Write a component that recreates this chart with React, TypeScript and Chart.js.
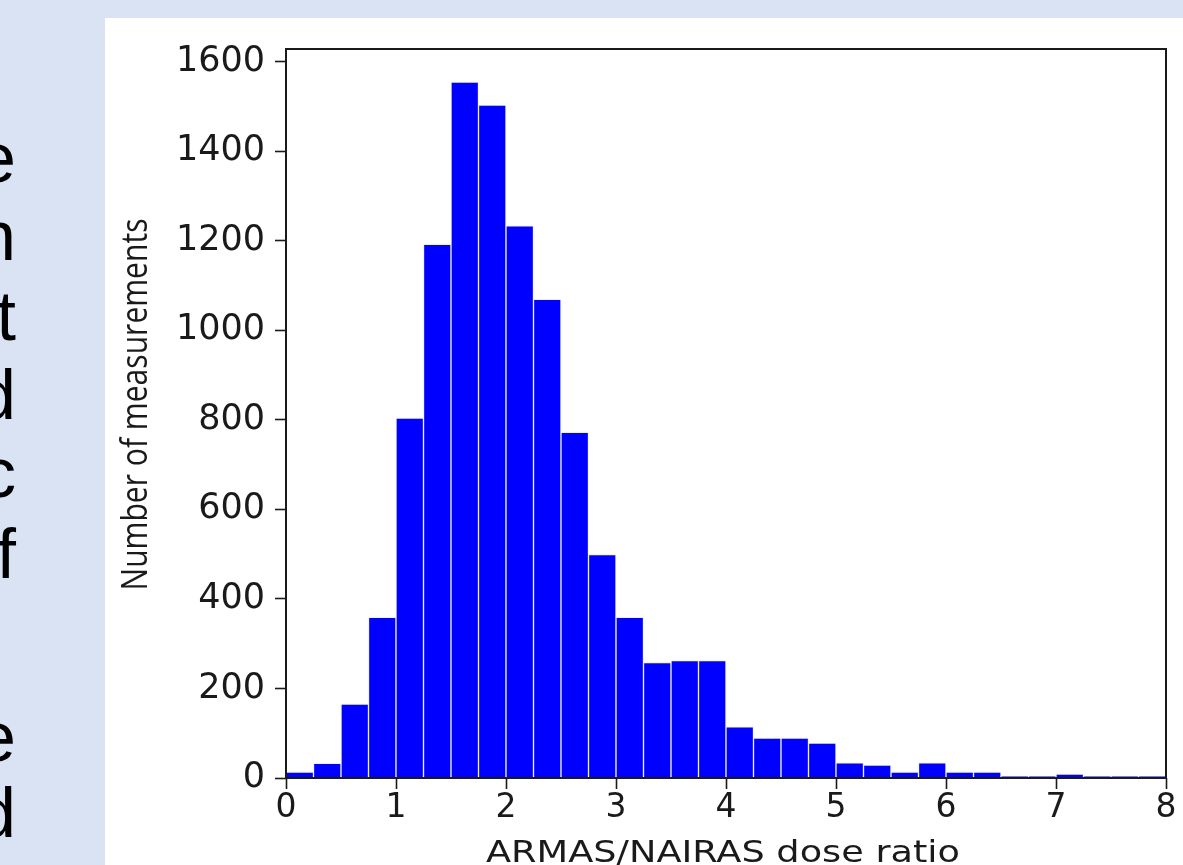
import { useEffect, useRef } from "react";
import { Chart, registerables } from "chart.js";

Chart.register(...registerables);

// Histogram bins of the ARMAS/NAIRAS dose ratio (bin width 0.25)
const binCenters = [
  0.125, 0.375, 0.625, 0.875, 1.125, 1.375, 1.625, 1.875,
  2.125, 2.375, 2.625, 2.875, 3.125, 3.375, 3.625, 3.875,
  4.125, 4.375, 4.625, 4.875, 5.125, 5.375, 5.625, 5.875,
  6.125, 6.375, 6.625, 6.875, 7.125, 7.375, 7.625, 7.875,
];
const counts = [
  13, 33, 165, 359, 804, 1192, 1554, 1503,
  1233, 1069, 772, 499, 359, 258, 262, 262,
  114, 89, 89, 78, 34, 29, 13, 34,
  13, 13, 4, 4, 9, 4, 4, 4,
];
const xTicks = [0, 1, 2, 3, 4, 5, 6, 7, 8];
const yTicks = [0, 200, 400, 600, 800, 1000, 1200, 1400, 1600];
const xRange = [0, 8];
const yRange = [0, 1628];
const xTitle = "ARMAS/NAIRAS dose ratio";
const yTitle = "Number of measurements";

// Line endings of the slide paragraph running off the left edge
const sideLetters = ["e", "n", "t", "d", "c", "f", "e", "d"];
const sideBaselines = [182, 260, 340, 419, 497, 578, 761, 837];

const INK = "#1a1a1a";

const framePlugin = {
  id: "frame",
  afterDatasetsDraw(chart: any) {
    const { ctx, chartArea: a } = chart;
    ctx.save();
    ctx.strokeStyle = INK;
    ctx.lineWidth = 2;
    ctx.strokeRect(a.left, a.top, a.right - a.left, a.bottom - a.top);
    ctx.restore();
  },
  afterDraw(chart: any) {
    const { ctx, chartArea: a } = chart;
    const drawFitted = (
      text: string,
      font: string,
      x: number,
      y: number,
      length: number,
      angle: number
    ) => {
      ctx.save();
      ctx.font = font;
      ctx.fillStyle = INK;
      ctx.textAlign = "center";
      ctx.textBaseline = "alphabetic";
      const w = ctx.measureText(text).width;
      ctx.translate(x, y);
      ctx.rotate(angle);
      ctx.scale(length / w, 1);
      ctx.fillText(text, 0, 0);
      ctx.restore();
    };
    // y-axis title, narrow face
    drawFitted(
      yTitle,
      "37px 'Open Sans', sans-serif",
      a.left - 139,
      (a.top + a.bottom) / 2 - 9,
      372,
      -Math.PI / 2
    );
    // x-axis title
    drawFitted(
      xTitle,
      "30px 'DejaVu Sans', sans-serif",
      (a.left + a.right) / 2 - 3,
      a.bottom + 84,
      474,
      0
    );
  },
};

function Histogram() {
  const canvasRef = useRef<HTMLCanvasElement | null>(null);

  useEffect(() => {
    const canvas = canvasRef.current;
    if (!canvas) return;
    const chart = new Chart(canvas, {
      type: "bar",
      data: {
        datasets: [
          {
            data: binCenters.map((x, i) => ({ x, y: counts[i] })),
            backgroundColor: "#0000ff",
            borderColor: "#eef0ff",
            borderWidth: 1,
            barPercentage: 1,
            categoryPercentage: 1,
          },
        ],
      },
      options: {
        responsive: false,
        maintainAspectRatio: false,
        animation: false,
        devicePixelRatio: 1,
        layout: { padding: { top: 30, right: 17, left: 0, bottom: 0 } },
        plugins: {
          legend: { display: false },
          tooltip: { enabled: false },
        },
        scales: {
          x: {
            type: "linear",
            min: xRange[0],
            max: xRange[1],
            offset: false,
            afterBuildTicks: (s: any) => {
              s.ticks = xTicks.map((v) => ({ value: v }));
            },
            afterFit: (s: any) => {
              s.height = 87;
            },
            grid: {
              offset: false,
              drawOnChartArea: false,
              drawTicks: true,
              tickLength: 11,
              tickColor: INK,
              tickWidth: 1.6,
            },
            border: { display: false },
            ticks: {
              color: INK,
              padding: 0,
              maxRotation: 0,
              autoSkip: false,
              font: { family: "'DejaVu Sans'", size: 33 },
              callback: (v: any) => String(v),
            },
          },
          y: {
            type: "linear",
            min: yRange[0],
            max: yRange[1],
            afterBuildTicks: (s: any) => {
              s.ticks = yTicks.map((v) => ({ value: v }));
            },
            afterFit: (s: any) => {
              s.width = 181;
            },
            grid: {
              drawOnChartArea: false,
              drawTicks: true,
              tickLength: 11,
              tickColor: INK,
              tickWidth: 1.6,
            },
            border: { display: false },
            ticks: {
              color: INK,
              padding: 10,
              autoSkip: false,
              font: { family: "'DejaVu Sans'", size: 35 },
              callback: (v: any) => String(v),
            },
          },
        },
      },
      plugins: [framePlugin],
    });
    return () => chart.destroy();
  }, []);

  return (
    <canvas
      ref={canvasRef}
      width={1078}
      height={847}
      style={{ display: "block", width: 1078, height: 847 }}
    />
  );
}

export default function App() {
  return (
    <div
      style={{
        position: "fixed",
        left: 0,
        top: 0,
        width: 1183,
        height: 865,
        overflow: "hidden",
        background: "#dae3f3",
      }}
    >
      {sideLetters.map((ch, i) => (
        <div
          key={i}
          style={{
            position: "absolute",
            left: -200,
            width: 216,
            top: sideBaselines[i] - 59,
            height: 70,
            lineHeight: "70px",
            fontSize: 70,
            fontFamily: "'Liberation Sans', Arial, sans-serif",
            color: "#000",
            textAlign: "right",
            whiteSpace: "nowrap",
          }}
        >
          {ch}
        </div>
      ))}
      <div
        style={{
          position: "absolute",
          left: 105,
          top: 18,
          width: 1078,
          height: 847,
          background: "#ffffff",
        }}
      >
        <Histogram />
      </div>
    </div>
  );
}
